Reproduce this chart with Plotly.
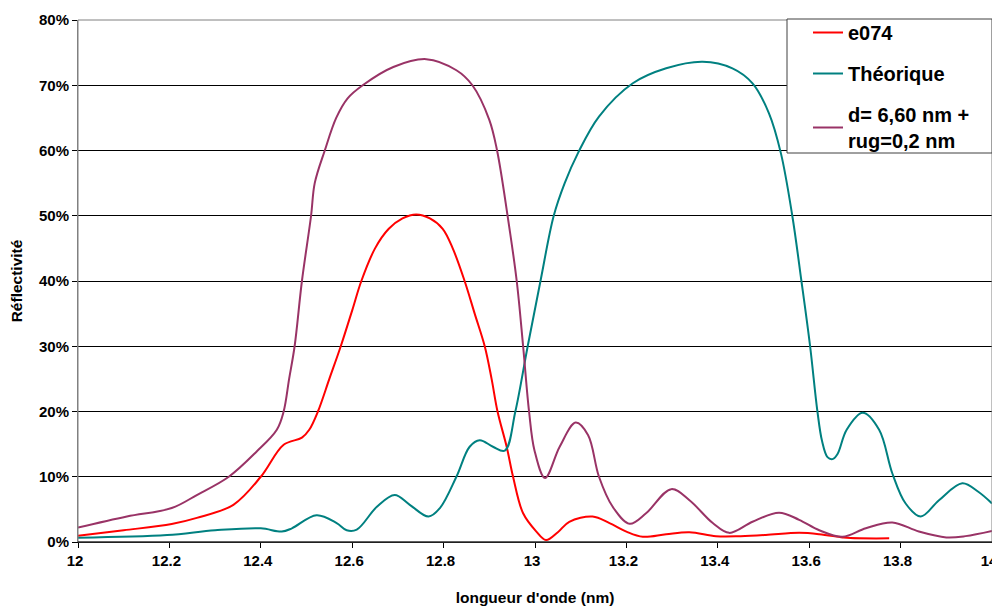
import plotly.graph_objects as go

# e074 (measured)
x_e074 = [12.0, 12.1, 12.205, 12.26, 12.34, 12.40, 12.45, 12.49, 12.506, 12.525, 12.55, 12.575,
          12.60, 12.62, 12.65, 12.68, 12.71, 12.74, 12.77, 12.798, 12.82, 12.846, 12.868, 12.89,
          12.905, 12.918, 12.938, 12.952, 12.974, 13.003, 13.024, 13.05, 13.075, 13.126, 13.163, 13.2,
          13.236, 13.287, 13.338, 13.396, 13.45, 13.505, 13.578, 13.622, 13.673, 13.69, 13.775]
y_e074 = [0.97, 1.8, 2.76, 3.7, 5.7, 10, 14.9, 16, 17.2, 20, 25, 30,
          35.5, 40, 45, 48, 49.6, 50.2, 49.6, 48, 45, 40, 35, 30,
          25, 20, 14.6, 10, 4.4, 1.6, 0.3, 1.5, 3.1, 3.9, 2.9, 1.6,
          0.8, 1.2, 1.5, 0.9, 0.9, 1.07, 1.4, 1.2, 0.7, 0.6, 0.56]

# Théorique
x_theo = [12.0, 12.195, 12.30, 12.40, 12.446, 12.468, 12.522, 12.566, 12.588, 12.61, 12.654,
          12.693, 12.726, 12.767, 12.792, 12.828, 12.857, 12.879, 12.908, 12.934, 12.957,
          12.984, 13.012, 13.041, 13.065, 13.094, 13.14, 13.214, 13.287, 13.367, 13.432, 13.476,
          13.512, 13.538, 13.563, 13.583, 13.602, 13.618, 13.628, 13.64, 13.651, 13.662, 13.682,
          13.717, 13.753, 13.782, 13.811, 13.844, 13.884, 13.935, 13.97, 14.0]
y_theo = [0.66, 1.07, 1.8, 2.1, 1.6, 2.1, 4.1, 2.9, 1.8, 1.9, 5.4,
          7.2, 5.7, 3.9, 5.2, 10, 14.6, 15.6, 14.6, 14.0, 20,
          30, 40, 50, 55, 59.6, 65.2, 70.3, 72.6, 73.6, 72.6, 70.3,
          65.7, 59.6, 50, 40, 30, 20, 15.5, 13.0, 12.7, 13.5, 17.2,
          19.8, 17.2, 10.5, 5.9, 3.9, 6.4, 9.0, 7.7, 5.9]

# d= 6,60 nm + rug=0,2 nm
x_fit = [12.0, 12.107, 12.205, 12.26, 12.33, 12.39, 12.435, 12.45, 12.462, 12.474, 12.49,
         12.51, 12.518, 12.54, 12.565, 12.59, 12.623, 12.69, 12.762, 12.828, 12.863, 12.9,
         12.917, 12.94, 12.96, 12.974, 12.987, 12.999, 13.022, 13.054, 13.089, 13.116, 13.14,
         13.17, 13.207, 13.243, 13.298, 13.338, 13.389, 13.425, 13.476, 13.534, 13.578,
         13.622, 13.673, 13.724, 13.782, 13.84, 13.9, 13.942, 14.0]
y_fit = [2.2, 3.9, 5.2, 7.2, 10, 13.8, 17.2, 20, 25, 30, 40,
         50, 55, 60, 65, 68, 70, 72.8, 74.0, 72.3, 70, 64.7,
         60, 50, 40, 30, 20, 14, 9.8, 14.6, 18.3, 16.4, 10,
         5.4, 2.8, 4.4, 8.1, 6.4, 2.9, 1.4, 3.1, 4.5, 3.4,
         1.8, 0.8, 2.1, 3.0, 1.6, 0.7, 0.9, 1.7]

x_ticks = [12, 12.2, 12.4, 12.6, 12.8, 13, 13.2, 13.4, 13.6, 13.8, 14]
x_tick_labels = ["12", "12.2", "12.4", "12.6", "12.8", "13", "13.2", "13.4", "13.6", "13.8", "14"]
y_ticks = [0, 10, 20, 30, 40, 50, 60, 70, 80]
y_tick_labels = ["0%", "10%", "20%", "30%", "40%", "50%", "60%", "70%", "80%"]

FONT = "Arial, 'Liberation Sans', sans-serif"

fig = go.Figure()
series = [
    ("e074", x_e074, y_e074, "#FF0000"),
    ("Théorique", x_theo, y_theo, "#008080"),
    ("d= 6,60 nm +<br>rug=0,2 nm", x_fit, y_fit, "#993366"),
]
for i, (name, xs, ys, col) in enumerate(series):
    fig.add_trace(go.Scatter(
        x=xs, y=ys, mode="lines", name=name, legendgroup=f"g{i}",
        line=dict(color=col, width=2, shape="spline", smoothing=1.0),
    ))

# page body has an 8px margin: figure is drawn 8px right/down
OFF = 8
W, H = 1000 - OFF, 606 - OFF
L, R, T, B = 78 - OFF, 8, 20 - OFF, 64
pw, ph = W - L - R, H - T - B
bx0, bx1, by0, by1 = 787 - OFF, 992 - OFF, 19 - OFF, 153 - OFF

fig.update_layout(
    width=W, height=H,
    margin=dict(l=L, r=R, t=T, b=B, autoexpand=False),
    paper_bgcolor="white", plot_bgcolor="white",
    font=dict(family=FONT, color="black"),
    showlegend=True,
    legend=dict(
        x=(bx0 - L + 21) / pw, y=(H - B - by0 + 6) / ph,
        xanchor="left", yanchor="top",
        bgcolor="rgba(0,0,0,0)", borderwidth=0,
        font=dict(family=FONT, size=20, color="black", weight="bold"),
        traceorder="grouped", tracegroupgap=12,
    ),
    xaxis=dict(
        range=[12, 14], tickvals=x_ticks, ticktext=x_tick_labels,
        showgrid=False, zeroline=False, automargin=False,
        ticklabelshift=-3, ticklabeloverflow="allow",
        showline=True, linecolor="black", linewidth=1,
        ticks="outside", ticklen=5, tickcolor="black",
        tickfont=dict(family=FONT, size=15, weight="bold"),
        title=dict(text="longueur d'onde (nm)", standoff=25,
                   font=dict(family=FONT, size=15.5, weight="bold")),
    ),
    yaxis=dict(
        range=[0, 80], tickvals=y_ticks, ticktext=y_tick_labels,
        showgrid=True, gridcolor="black", gridwidth=1, zeroline=False, automargin=False,
        showline=True, linecolor="#808080", linewidth=1,
        ticks="outside", ticklen=5, tickcolor="black",
        tickfont=dict(family=FONT, size=15, weight="bold"),
        title=dict(text="Réflectivité", standoff=16,
                   font=dict(family=FONT, size=15.5, weight="bold")),
    ),
    shapes=[
        dict(type="rect", xref="paper", yref="paper", x0=0, x1=1, y0=0, y1=1,
             line=dict(color="#808080", width=1), fillcolor="rgba(0,0,0,0)", layer="above"),
        dict(type="line", xref="paper", yref="paper", x0=0, x1=1, y0=0, y1=0,
             line=dict(color="black", width=1), layer="above"),
        dict(type="rect", xref="paper", yref="paper",
             x0=(bx0 - L) / pw, x1=(bx1 - L) / pw,
             y0=(H - B - by1) / ph, y1=(H - B - by0) / ph,
             line=dict(color="#404040", width=1), fillcolor="white", layer="above"),
    ],
)

fig.write_html("out.html")
